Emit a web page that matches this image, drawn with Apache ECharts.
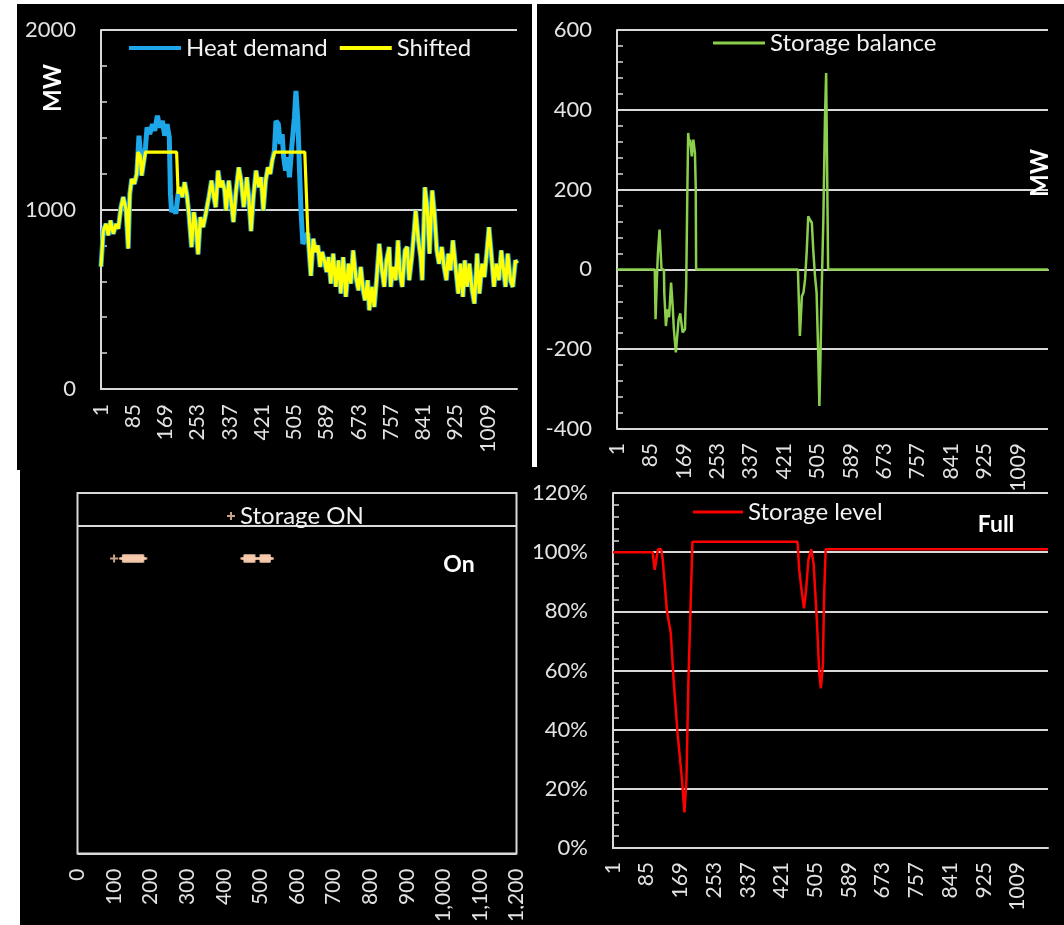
<!DOCTYPE html>
<html>
<head>
<meta charset="utf-8">
<script src="https://cdn.jsdelivr.net/npm/echarts@6/dist/echarts.min.js"></script>
<style>
  html, body { margin: 0; padding: 0; background: #ffffff; }
  #chart { width: 1064px; height: 925px; }
</style>
</head>
<body>
<div id="chart"></div>
<script>
// Hourly storage simulation: demand, shifted demand, storage balance, storage level.
const HOURS = 1085;

// Heat demand [hour, MW]
const heatDemand = [
  [1,682],[7,883],[14,920],[20,856],[26,939],[33,865],[40,920],[46,893],[53,1013],[59,1069],
  [66,1004],[72,782],[76,1087],[81,1170],[88,1143],[94,1198],[97,1300],[100,1411],[103,1330],[107,1189],
  [113,1272],[117,1350],[121,1457],[128,1420],[135,1476],[141,1439],[148,1522],[154,1457],[161,1494],[167,1411],
  [173,1476],[179,1402],[182,1087],[185,985],[191,1013],[196,976],[202,1087],[206,1124],[213,1069],[219,1152],
  [225,1078],[230,976],[237,790],[243,985],[248,920],[254,750],[260,957],[267,902],[274,976],[282,1069],
  [289,1161],[295,1069],[300,1013],[306,1217],[312,1124],[317,1161],[323,1106],[327,994],[334,1161],[340,1050],
  [346,930],[353,1106],[360,1235],[366,1161],[373,1013],[378,1106],[381,1180],[386,1069],[392,880],[398,1069],
  [405,1217],[412,1124],[418,1180],[424,994],[430,1161],[436,1235],[442,1198],[447,1272],[453,1330],[457,1494],
  [463,1476],[468,1365],[473,1420],[477,1291],[482,1217],[488,1291],[492,1180],[498,1346],[505,1513],[509,1661],
  [514,1494],[518,1235],[522,1000],[527,809],[533,830],[540,870],[548,630],[554,837],[560,763],[566,800],
  [572,680],[577,763],[583,717],[589,652],[594,735],[600,587],[606,754],[613,569],[620,717],[626,532],
  [632,735],[639,513],[646,698],[652,587],[658,772],[665,624],[672,550],[678,680],[684,550],[689,494],
  [696,606],[700,439],[707,569],[713,457],[719,606],[726,809],[732,680],[739,569],[745,717],[752,791],
  [756,569],[762,680],[769,606],[775,828],[780,643],[786,569],[793,772],[799,791],[804,606],[811,735],
  [817,883],[821,994],[828,828],[834,735],[838,606],[845,1124],[851,1013],[857,754],[864,1106],[870,976],
  [876,772],[882,698],[889,791],[895,680],[901,606],[906,754],[912,661],[918,828],[925,680],[932,532],
  [938,698],[944,513],[949,717],[955,569],[961,698],[968,550],[974,476],[981,754],[987,532],[994,698],
  [1000,624],[1006,754],[1012,902],[1018,754],[1025,569],[1031,698],[1038,606],[1044,772],[1049,680],[1055,569],
  [1061,754],[1068,606],[1074,569],[1081,717],[1085,700]
];

// Shifted demand [hour, MW] (peaks capped, surplus stored)
const shiftedDemand = [
  [1,682],[7,883],[14,920],[20,856],[26,939],[33,865],[40,920],[46,893],[53,1013],[59,1069],
  [66,1004],[72,782],[76,1087],[81,1170],[88,1143],[94,1198],[97,1320],[100,1320],[103,1300],[107,1189],
  [113,1272],[117,1320],[198,1320],[202,1087],[206,1124],[213,1069],[219,1152],
  [225,1078],[230,976],[237,790],[243,985],[248,920],[254,750],[260,957],[267,902],[274,976],[282,1069],
  [289,1161],[295,1069],[300,1013],[306,1217],[312,1124],[317,1161],[323,1106],[327,994],[334,1161],[340,1050],
  [346,930],[353,1106],[360,1235],[366,1161],[373,1013],[378,1106],[381,1180],[386,1069],[392,880],[398,1069],
  [405,1217],[412,1124],[418,1180],[424,994],[430,1161],[436,1235],[442,1198],[447,1272],[453,1320],
  [532,1320],[540,870],[548,630],[554,837],[560,763],[566,800],
  [572,680],[577,763],[583,717],[589,652],[594,735],[600,587],[606,754],[613,569],[620,717],[626,532],
  [632,735],[639,513],[646,698],[652,587],[658,772],[665,624],[672,550],[678,680],[684,550],[689,494],
  [696,606],[700,439],[707,569],[713,457],[719,606],[726,809],[732,680],[739,569],[745,717],[752,791],
  [756,569],[762,680],[769,606],[775,828],[780,643],[786,569],[793,772],[799,791],[804,606],[811,735],
  [817,883],[821,994],[828,828],[834,735],[838,606],[845,1124],[851,1013],[857,754],[864,1106],[870,976],
  [876,772],[882,698],[889,791],[895,680],[901,606],[906,754],[912,661],[918,828],[925,680],[932,532],
  [938,698],[944,513],[949,717],[955,569],[961,698],[968,550],[974,476],[981,754],[987,532],[994,698],
  [1000,624],[1006,754],[1012,902],[1018,754],[1025,569],[1031,698],[1038,606],[1044,772],[1049,680],[1055,569],
  [1061,754],[1068,606],[1074,569],[1081,717],[1085,700]
];

// Storage balance [hour, MW]
const storageBalance = [
  [1,0],[96,0],[98,-125],[101,-33],[104,42],[108,100],[111,104],[113,0],[119,0],[120,-60],
  [124,-142],[128,-100],[132,-120],[137,-33],[141,-92],[144,-150],[149,-208],[153,-212],[156,-125],[160,-110],
  [166,-158],[172,-150],[175,-42],[178,200],[180,342],[183,310],[185,325],[189,283],[193,325],[197,292],
  [199,208],[200,0],[456,0],[459,-100],[461,-167],[463,-167],[466,-67],[470,-58],[474,-25],[478,42],
  [482,133],[486,125],[491,117],[495,42],[499,-17],[503,-58],[507,-208],[510,-342],[513,-208],[516,-42],
  [520,125],[524,375],[527,492],[530,492],[532,0],[1085,0]
];

// Storage level [hour, % of capacity]
const storageLevel = [
  [1,100],[100,100],[103,96],[105,94],[109,97.5],[113,101],[121,101],[125,97.5],[135,80.5],[145,72.6],
  [152,56.8],[162,38.7],[173,22.9],[179,12],[184,22.9],[189,56.8],[195,85],[199,103.5],[461,103.5],[465,94],
  [472,86],[477,81],[482,87],[488,97.5],[495,101],[501,96],[509,77],[515,59],[519,54],[524,62],
  [527,85],[531,101],[1085,101]
];

// Hours in which the storage is running, plotted at the "On" level
const storageOnHours = [
  100,
  124,126,128,130,132,134,136,138,140,142,144,146,148,150,152,154,156,158,160,162,164,166,168,170,172,174,176,178,180,
  456,458,460,462,464,466,468,470,472,474,476,478,480,482,484,
  500,502,504,506,508,510,512,514,516,518,520,522,524,526
];
const storageOnLevel = 0.9;

// Tick labels
const hourCategories = Array.from({ length: HOURS }, (_, i) => String(i + 1));
const mwTicksA = [0, 1000, 2000];
const mwTicksB = [-400, -200, 0, 200, 400, 600];

const FONT = 'Lato';
const TXT = '#e3e3e3';
const GRID = '#d9d9d9';
const PLUS = 'path://M0,3 L8,3 L8,5 L0,5 Z M3,0 L5,0 L5,8 L3,8 Z';

const toCat = pts => pts.map(([h, v]) => [String(h), v]);

function hourAxis(gridIndex, margin) {
  return {
    type: 'category', gridIndex, data: hourCategories, boundaryGap: false,
    axisLine: { show: true, lineStyle: { color: GRID, width: 2 } },
    axisTick: { show: false },
    axisLabel: { interval: 83, rotate: 90, margin, color: TXT, fontFamily: FONT, fontSize: 21 },
    splitLine: { show: false }
  };
}

function valueAxis(gridIndex, min, max, interval, formatter) {
  return {
    type: 'value', gridIndex, min, max, interval,
    axisLine: { show: true, lineStyle: { color: GRID, width: 2 } },
    axisTick: { show: true, inside: true, length: 6, lineStyle: { color: GRID, width: 1.5 } },
    minorTick: { show: true, splitNumber: 5, length: 6, lineStyle: { color: GRID, width: 1.5 } },
    axisLabel: { margin: 25, color: TXT, fontFamily: FONT, fontSize: 22, formatter },
    splitLine: { show: true, lineStyle: { color: GRID, width: 2 } }
  };
}

const legendText = { color: '#f2f2f2', fontFamily: FONT, fontSize: 24 };

const chart = echarts.init(document.getElementById('chart'), null, { renderer: 'canvas' });

chart.setOption({
  animation: false,
  backgroundColor: '#000000',
  grid: [
    { left: 101, top: 30, width: 416, height: 359 },
    { left: 617, top: 30, width: 431, height: 399 },
    { left: 77.5, top: 493, width: 439, height: 369, show: true, borderColor: GRID, borderWidth: 2, backgroundColor: 'transparent' },
    { left: 613, top: 493, width: 435, height: 355 }
  ],
  xAxis: [
    hourAxis(0, 15),
    hourAxis(1, 14),
    {
      type: 'value', gridIndex: 2, min: 0, max: 1200, interval: 100,
      axisLine: { show: false }, axisTick: { show: false }, splitLine: { show: false },
      axisLabel: { rotate: 90, margin: 15, color: TXT, fontFamily: FONT, fontSize: 21 }
    },
    hourAxis(3, 14)
  ],
  yAxis: [
    valueAxis(0, mwTicksA[0], mwTicksA[mwTicksA.length - 1], 1000, v => String(v)),
    valueAxis(1, mwTicksB[0], mwTicksB[mwTicksB.length - 1], 200, v => String(v)),
    {
      type: 'value', gridIndex: 2, min: 0, max: 1.1, interval: 1,
      axisLine: { show: false }, axisTick: { show: false }, axisLabel: { show: false },
      splitLine: { show: true, lineStyle: { color: GRID, width: 2 } }
    },
    valueAxis(3, 0, 120, 20, v => v + '%')
  ],
  legend: [
    { data: ['Heat demand', 'Shifted'], left: 129, top: 36, padding: 0, itemGap: 12, icon: 'rect', itemWidth: 52, itemHeight: 4, textStyle: legendText },
    { data: ['Storage balance'], left: 713, top: 31, padding: 0, icon: 'rect', itemWidth: 52, itemHeight: 3, textStyle: legendText },
    { data: ['Storage ON'], left: 227, top: 504, padding: 0, itemWidth: 8, itemHeight: 8, textStyle: legendText },
    { data: ['Storage level'], left: 693, top: 500, padding: 0, icon: 'rect', itemWidth: 50, itemHeight: 3, textStyle: legendText }
  ],
  series: [
    {
      name: 'Heat demand', type: 'line', xAxisIndex: 0, yAxisIndex: 0, data: toCat(heatDemand),
      symbol: 'none', color: '#1ea7e8', lineStyle: { color: '#1ea7e8', width: 5 }, z: 3
    },
    {
      name: 'Shifted', type: 'line', xAxisIndex: 0, yAxisIndex: 0, data: toCat(shiftedDemand),
      symbol: 'none', color: '#ffff00', lineStyle: { color: '#ffff00', width: 3.2 }, z: 4
    },
    {
      name: 'Storage balance', type: 'line', xAxisIndex: 1, yAxisIndex: 1, data: toCat(storageBalance),
      symbol: 'none', color: '#8ccf4d', lineStyle: { color: '#8ccf4d', width: 2.5 }, z: 3
    },
    {
      name: 'Storage ON', type: 'scatter', xAxisIndex: 2, yAxisIndex: 2,
      data: storageOnHours.map(h => [h, storageOnLevel]),
      symbol: PLUS, symbolSize: 8, itemStyle: { color: '#f8cbad' }, z: 3
    },
    {
      name: 'Storage level', type: 'line', xAxisIndex: 3, yAxisIndex: 3, data: toCat(storageLevel),
      symbol: 'none', color: '#ff0000', lineStyle: { color: '#ff0000', width: 2.5 }, z: 3
    }
  ],
  graphic: [
    { type: 'text', x: 53, y: 88, rotation: Math.PI / 2, z: 50,
      style: { text: 'MW', fill: '#ffffff', font: 'bold 24px Lato', textAlign: 'center', textVerticalAlign: 'middle' } },
    { type: 'text', x: 1040, y: 173, rotation: Math.PI / 2, z: 50,
      style: { text: 'MW', fill: '#ffffff', font: 'bold 24px Lato', textAlign: 'center', textVerticalAlign: 'middle' } },
    { type: 'text', x: 459, y: 565, z: 50,
      style: { text: 'On', fill: '#ffffff', font: 'bold 23px Lato', textAlign: 'center', textVerticalAlign: 'middle' } },
    { type: 'text', x: 996, y: 525, z: 50,
      style: { text: 'Full', fill: '#ffffff', font: 'bold 23px Lato', textAlign: 'center', textVerticalAlign: 'middle' } },
    // page margins and the divider between the two upper panels
    { type: 'rect', z: 100, shape: { x: 0, y: 0, width: 1064, height: 4 }, style: { fill: '#ffffff' } },
    { type: 'rect', z: 100, shape: { x: 0, y: 0, width: 17, height: 470 }, style: { fill: '#ffffff' } },
    { type: 'rect', z: 100, shape: { x: 0, y: 470, width: 20, height: 455 }, style: { fill: '#ffffff' } },
    { type: 'rect', z: 100, shape: { x: 532, y: 0, width: 5, height: 467 }, style: { fill: '#ffffff' } },
    { type: 'rect', z: 100, shape: { x: 524, y: 866, width: 12, height: 59 }, style: { fill: '#000000' } }
  ]
});
</script>
</body>
</html>
